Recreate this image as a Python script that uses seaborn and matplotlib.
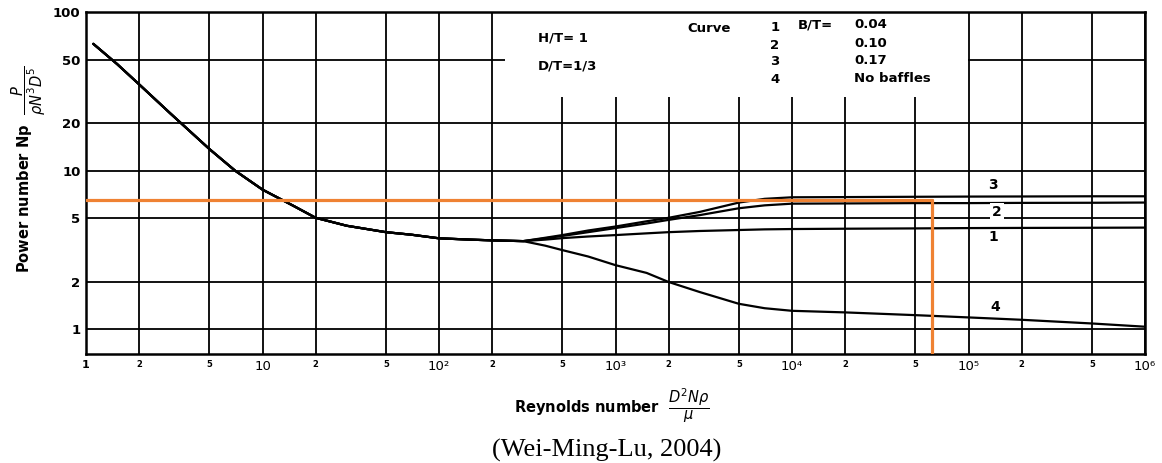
import numpy as np
import pandas as pd
import matplotlib
matplotlib.use("Agg")
import matplotlib.pyplot as plt
import seaborn as sns
from matplotlib.patches import Rectangle

# Shared laminar / transition part (all four curves coincide here)
re_common = [1.1, 1.5, 2, 3, 5, 7, 10, 15, 20, 30, 50, 70, 100, 150, 200, 300]
np_common = [63, 47, 35, 23, 13.7, 10, 7.6, 6.0, 5.05, 4.5, 4.1, 3.95, 3.75, 3.68, 3.64, 3.6]

# Baffled branches (curves 1-3)
re_baffled = [400, 500, 700, 1e3, 1.5e3, 2e3, 3e3, 5e3, 7e3, 1e4, 2e4, 5e4, 1e5, 2e5, 5e5, 1e6]
np_curve1 = [3.68, 3.76, 3.85, 3.93, 4.03, 4.1, 4.17, 4.23, 4.27, 4.29, 4.31, 4.33, 4.35, 4.36, 4.37, 4.38]
np_curve2 = [3.75, 3.88, 4.1, 4.35, 4.65, 4.9, 5.25, 5.8, 6.05, 6.2, 6.22, 6.25, 6.25, 6.27, 6.28, 6.3]
np_curve3 = [3.78, 3.93, 4.2, 4.45, 4.8, 5.05, 5.5, 6.3, 6.65, 6.8, 6.82, 6.85, 6.87, 6.88, 6.9, 6.9]

# Unbaffled branch (curve 4)
re_unbaffled = [400, 500, 700, 1e3, 1.5e3, 2e3, 3e3, 5e3, 7e3, 1e4, 2e4, 5e4, 1e5, 2e5, 5e5, 1e6]
np_curve4 = [3.37, 3.16, 2.88, 2.54, 2.27, 1.99, 1.72, 1.45, 1.36, 1.31, 1.28, 1.23, 1.19, 1.15, 1.09, 1.04]

# Orange read-off lines
orange_re = 6.2e4
orange_np = 6.55

x_ticks = [1, 2, 5, 10, 20, 50, 1e2, 2e2, 5e2, 1e3, 2e3, 5e3, 1e4, 2e4, 5e4, 1e5, 2e5, 5e5, 1e6]
x_tick_labels = ['1', '2', '5', '10', '2', '5', '10²', '2', '5', '10³', '2', '5',
                 '10⁴', '2', '5', '10⁵', '2', '5', '10⁶']
y_ticks = [1, 2, 5, 10, 20, 50, 100]
y_tick_labels = ['1', '2', '5', '10', '20', '50', '100']

frames = []
for name, vals in [('1', np_curve1), ('2', np_curve2), ('3', np_curve3)]:
    frames.append(pd.DataFrame({'re': re_common + re_baffled,
                                'np': np_common + vals, 'curve': name}))
frames.append(pd.DataFrame({'re': re_common + re_unbaffled,
                            'np': np_common + np_curve4, 'curve': '4'}))
df = pd.concat(frames, ignore_index=True)

sns.set_theme(style="white")
plt.rcParams['font.family'] = ['DejaVu Sans']
plt.rcParams.update({'text.color': 'black', 'axes.labelcolor': 'black',
                     'xtick.color': 'black', 'ytick.color': 'black'})

fig = plt.figure(figsize=(11.62, 4.63), dpi=100)
ax = fig.add_axes([86 / 1162, 1 - 354 / 463, 1059 / 1162, 342 / 463])

sns.lineplot(data=df, x='re', y='np', units='curve', estimator=None,
             color='black', lw=1.6, ax=ax, zorder=3)

ax.set_xscale('log')
ax.set_yscale('log')
ax.set_xlim(1, 1e6)
ax.set_ylim(0.7, 100)
ax.set_xticks(x_ticks, x_tick_labels)
ax.set_yticks(y_ticks, y_tick_labels)
ax.minorticks_off()
ax.set_axisbelow(True)
ax.grid(True, which='major', color='black', lw=1.3)
ax.tick_params(length=0, pad=4)
for lab in ax.get_xticklabels():
    if lab.get_text() in ('2', '5'):
        lab.set_fontsize(6)
        lab.set_fontweight('bold')
    elif lab.get_text() == '1':
        lab.set_fontsize(8)
        lab.set_fontweight('bold')
    else:
        lab.set_fontsize(9.5)
for lab in ax.get_yticklabels():
    lab.set_fontsize(9.5)
    lab.set_fontweight('bold')
for sp in ax.spines.values():
    sp.set_visible(True)
    sp.set_color('black')
    sp.set_linewidth(1.8)

# blank area holding the key
ax.add_patch(Rectangle((237, 29), 1e5 * 0.99 - 237, 200, facecolor='white',
                       edgecolor='none', zorder=1))

# orange read-off
ax.plot([1, orange_re], [orange_np, orange_np], color='#EF8233', lw=2.3, zorder=4)
ax.plot([orange_re, orange_re], [orange_np, 0.7], color='#EF8233', lw=2.3, zorder=4)

tk = dict(transform=ax.transAxes, fontsize=9.5, fontweight='bold', va='center')
ax.text(0.4268, 0.924, 'H/T= 1', ha='left', **tk)
ax.text(0.4268, 0.842, 'D/T=1/3', ha='left', **tk)
ax.text(0.5675, 0.953, 'Curve', ha='left', **tk)
for yy, d in zip([0.956, 0.9035, 0.854, 0.804], ['1', '2', '3', '4']):
    ax.text(0.6506, yy, d, ha='center', **tk)
ax.text(0.6723, 0.962, 'B/T=', ha='left', **tk)
for yy, v in zip([0.962, 0.909, 0.857, 0.807], ['0.04', '0.10', '0.17', 'No baffles']):
    ax.text(0.7252, yy, v, ha='left', **tk)

ck = dict(transform=ax.transAxes, fontsize=10, fontweight='bold', ha='center', va='center', zorder=5)
ax.text(0.8565, 0.342, '1', **ck)
ax.text(0.860, 0.415, '2', bbox=dict(facecolor='white', edgecolor='none', pad=1.5), **ck)
ax.text(0.8565, 0.494, '3', **ck)
ax.text(0.859, 0.137, '4', **ck)

ax.set_xlabel(r'Reynolds number  $\dfrac{D^2 N\rho}{\mu}$', fontsize=10.5,
              fontweight='bold')
ax.xaxis.set_label_coords(0.497, -0.095)
ax.set_ylabel(r'Power number Np  $\dfrac{P}{\rho N^3 D^5}$', fontsize=10.5,
              fontweight='bold')
ax.yaxis.set_label_coords(-0.036, 0.54)

fig.text(607 / 1162, 1 - 457 / 463, '(Wei-Ming-Lu, 2004)', ha='center', va='baseline',
         fontsize=19, family=['Liberation Serif', 'DejaVu Serif'])

fig.savefig('out.png', dpi=100)
